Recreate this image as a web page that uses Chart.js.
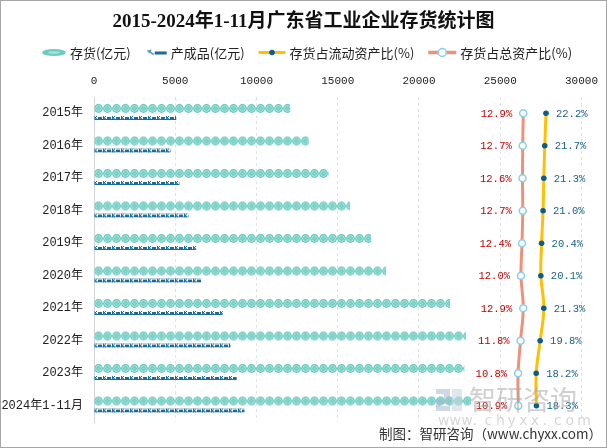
<!DOCTYPE html>
<html><head><meta charset="utf-8">
<script src="https://cdn.jsdelivr.net/npm/chart.js@4.4.1/dist/chart.umd.min.js"></script>
<style>html,body{margin:0;padding:0;background:#fff;}#wrap{width:607px;height:448px;position:relative;}canvas{display:block;}</style>
</head><body><div id="wrap"><canvas id="c" width="607" height="448"></canvas></div>
<script>
// ---- data ----
const categories = ['2015年','2016年','2017年','2018年','2019年','2020年','2021年','2022年','2023年','2024年1-11月'];
const inventory = [12070, 13210, 14440, 15760, 17050, 17970, 21910, 22890, 22790, 23200];
const finishedGoods = [5060, 4710, 5260, 5810, 6290, 6590, 7920, 8400, 8780, 9260];
const shareOfCurrentAssets = [22.2, 21.7, 21.3, 21.0, 20.4, 20.1, 21.3, 19.8, 18.2, 18.3];
const shareOfTotalAssets = [12.9, 12.7, 12.6, 12.7, 12.4, 12.0, 12.9, 11.8, 10.8, 10.9];
const xTickValues = [0, 5000, 10000, 15000, 20000, 25000, 30000];
const seriesNames = ['存货(亿元)', '产成品(亿元)', '存货占流动资产比(%)', '存货占总资产比(%)'];
const titleText = '2015-2024年1-11月广东省工业企业存货统计图';
const footerText = '制图：智研咨询（www.chyxx.com）';

// ---- styling ----
const CAT_PCT = 0.584, INV_BAR_PCT = 0.95, FG_BAR_PCT = 0.42;
const TEAL = '#64c8bc', DARKBLUE = '#1d6c96', YELLOW = '#ffc000', SALMON = '#ef907a';

function makeTile(w, h, draw) { const c = document.createElement('canvas'); c.width = w; c.height = h; draw(c.getContext('2d')); return c; }
const invTile = makeTile(9, 9, g => {
  g.fillStyle = TEAL; g.beginPath(); g.arc(4.5, 4.5, 4.4, 0, Math.PI * 2); g.fill();
  g.strokeStyle = '#b8ebe4'; g.lineWidth = 1; g.beginPath(); g.arc(4.5, 4.5, 2.8, 0, Math.PI * 2); g.stroke();
  g.fillStyle = '#8fd8cf'; g.beginPath(); g.arc(4.5, 4.5, 1.3, 0, Math.PI * 2); g.fill();
});
const fgTile = makeTile(9, 4, g => {
  g.fillStyle = DARKBLUE;
  g.fillRect(0, 0, 1, 4); g.fillRect(1, 1, 1, 1); g.fillRect(2, 0, 1, 1);
  g.fillRect(0, 3, 9, 1); g.fillRect(4, 1, 4, 2);
  g.fillStyle = '#4f97bf'; g.fillRect(1, 2, 2, 1);
});

function patternFor(tile, slot, barPct, fallback) {
  return function (ctx) {
    const chart = ctx.chart, xs = chart.scales.x, ys = chart.scales.y;
    if (ctx.type !== 'data' || !xs || !ys) return fallback;
    const c = ys.getPixelForValue(ctx.dataIndex);
    const step = Math.abs(ys.getPixelForValue(1) - ys.getPixelForValue(0));
    const x0 = xs.getPixelForValue(0);
    if (!isFinite(c) || !isFinite(step) || !isFinite(x0) || step === 0) return fallback;
    const chunk = step * CAT_PCT / 2;
    const center = c + (slot === 0 ? -chunk / 2 : chunk / 2);
    const top = center - chunk * barPct / 2;
    const pat = chart.ctx.createPattern(tile, 'repeat');
    pat.setTransform(new DOMMatrix([1, 0, 0, 1, x0, top]));
    return pat;
  };
}

// ---- plugins ----
const frame = {
  id: 'frame',
  beforeDraw(chart) {
    const g = chart.ctx; g.save(); g.fillStyle = '#fff'; g.fillRect(0, 0, chart.width, chart.height); g.restore();
  },
  afterDraw(chart) {
    const g = chart.ctx; g.save();
    // legend
    g.font = '13px "Noto Sans CJK SC", sans-serif'; g.textBaseline = 'middle';
    const iconW = [24, 22, 27, 28], gapIT = 4, gapItems = 14, ly = 52.5;
    let total = 0; const tw = seriesNames.map(s => g.measureText(s).width);
    tw.forEach((w, i) => { total += iconW[i] + gapIT + w + (i < 3 ? gapItems : 0); });
    let x = 307 - total / 2;
    seriesNames.forEach((s, i) => {
      const w = iconW[i];
      if (i === 0) {
        g.fillStyle = '#6ecbc0'; g.beginPath(); g.ellipse(x + w / 2, ly, w / 2, 3.6, 0, 0, Math.PI * 2); g.fill();
        g.fillStyle = '#a8e2da'; g.beginPath(); g.ellipse(x + w / 2, ly, 6, 1.3, 0, 0, Math.PI * 2); g.fill();
      } else if (i === 1) {
        g.fillStyle = '#5a9cc2'; g.beginPath(); g.moveTo(x + 2, ly - 2); g.lineTo(x + 7, ly - 3); g.lineTo(x + 5, ly + 1); g.closePath(); g.fill();
        g.strokeStyle = '#5a9cc2'; g.lineWidth = 1.5; g.beginPath(); g.moveTo(x + 4, ly - 1); g.lineTo(x + 9, ly + 2); g.stroke();
        g.fillStyle = DARKBLUE; g.fillRect(x + 10, ly - 1, 12, 3);
      } else if (i === 2) {
        g.strokeStyle = YELLOW; g.lineWidth = 3; g.beginPath(); g.moveTo(x, ly); g.lineTo(x + w, ly); g.stroke();
        g.fillStyle = '#0f5c86'; g.beginPath(); g.arc(x + w / 2, ly, 2.8, 0, Math.PI * 2); g.fill();
      } else {
        g.strokeStyle = SALMON; g.lineWidth = 3.5; g.beginPath(); g.moveTo(x, ly); g.lineTo(x + w, ly); g.stroke();
        g.fillStyle = '#fffaf0'; g.strokeStyle = '#86d0ef'; g.lineWidth = 1.5;
        g.beginPath(); g.arc(x + w / 2, ly, 4, 0, Math.PI * 2); g.fill(); g.stroke();
      }
      x += w + gapIT;
      g.fillStyle = '#222'; g.textAlign = 'left'; g.fillText(s, x, ly + 0.5);
      x += tw[i] + gapItems;
    });
    // watermark
    g.globalAlpha = 0.55;
    g.fillStyle = '#a9b8cf';
    g.fillRect(436, 389, 14, 5); g.fillRect(444, 394, 6, 5); g.fillRect(436, 399, 14, 5); g.fillRect(436, 404, 4, 3); g.fillRect(436, 406, 14, 5);
    g.fillStyle = '#c9d3e3'; g.fillRect(452, 389, 10, 22);
    g.fillStyle = '#a8a8a8'; g.font = '27px "Noto Sans CJK SC", sans-serif'; g.textAlign = 'left'; g.textBaseline = 'middle';
    g.fillText('智研咨询', 469, 400);
    g.font = '14px "DejaVu Sans", sans-serif'; g.fillStyle = '#b5b5b5';
    const wm = 'www.chyxx.com'; let wx = 438;
    for (const ch of wm) { g.fillText(ch, wx, 421); wx += 11.6; }
    g.globalAlpha = 1;
    // footer
    g.font = '13.5px "Noto Sans CJK SC", sans-serif'; g.fillStyle = '#333'; g.textAlign = 'right'; g.textBaseline = 'middle';
    g.fillText(footerText, 602, 433.5);
    // border
    g.strokeStyle = '#a6a6a6'; g.lineWidth = 1; g.strokeRect(0.5, 0.5, chart.width - 1, chart.height - 1);
    g.restore();
  }
};

const pctLabels = {
  id: 'pctLabels',
  afterDatasetsDraw(chart, args, opts) {
    const g = chart.ctx;
    (opts.items || []).forEach(it => {
      const meta = chart.getDatasetMeta(it.datasetIndex);
      const data = chart.data.datasets[it.datasetIndex].data;
      g.save();
      g.font = '10.5px "Liberation Mono", monospace';
      g.fillStyle = it.color; g.textBaseline = 'middle'; g.textAlign = it.side < 0 ? 'right' : 'left';
      meta.data.forEach((pt, j) => { g.fillText(data[j].toFixed(1) + '%', pt.x + it.side * it.offset, pt.y + 0.5); });
      g.restore();
    });
  }
};

new Chart(document.getElementById('c'), {
  data: {
    labels: categories,
    datasets: [
      { type: 'bar', label: seriesNames[0], data: inventory, xAxisID: 'x', yAxisID: 'y', indexAxis: 'y', order: 2,
        backgroundColor: patternFor(invTile, 0, INV_BAR_PCT, TEAL), borderWidth: 0,
        categoryPercentage: CAT_PCT, barPercentage: INV_BAR_PCT },
      { type: 'bar', label: seriesNames[1], data: finishedGoods, xAxisID: 'x', yAxisID: 'y', indexAxis: 'y', order: 2,
        backgroundColor: patternFor(fgTile, 1, FG_BAR_PCT, DARKBLUE), borderWidth: 0,
        categoryPercentage: CAT_PCT, barPercentage: FG_BAR_PCT },
      { type: 'line', label: seriesNames[2], data: shareOfCurrentAssets, xAxisID: 'x2', yAxisID: 'y', indexAxis: 'y', order: 0,
        borderColor: YELLOW, borderWidth: 3, tension: 0.4, fill: false,
        pointRadius: 2.8, pointBackgroundColor: '#0f5c86', pointBorderWidth: 0, pointHoverRadius: 3 },
      { type: 'line', label: seriesNames[3], data: shareOfTotalAssets, xAxisID: 'x2', yAxisID: 'y', indexAxis: 'y', order: 0,
        borderColor: SALMON, borderWidth: 3, tension: 0.4, fill: false,
        pointRadius: 3.5, pointBackgroundColor: '#fffaf0', pointBorderColor: '#86d0ef', pointBorderWidth: 1.5, pointHoverRadius: 4 }
    ]
  },
  options: {
    indexAxis: 'y',
    responsive: false,
    animation: false,
    devicePixelRatio: 1,
    layout: { padding: { top: 0, left: 0, right: 0, bottom: 26 } },
    plugins: {
      legend: { display: false },
      tooltip: { enabled: false },
      title: { display: true, text: titleText, color: '#111',
        font: { family: '"Liberation Serif", "Noto Sans CJK SC", serif', size: 19, weight: 'bold', lineHeight: 1.2 },
        padding: { top: 10.3, bottom: 32.7 } },
      pctLabels: { items: [
        { datasetIndex: 3, color: '#c00000', side: -1, offset: 11 },
        { datasetIndex: 2, color: '#155f86', side: 1, offset: 10 }
      ] }
    },
    scales: {
      x: { type: 'linear', position: 'top', min: 0, max: 30000,
        afterBuildTicks: s => { s.ticks = xTickValues.map(v => ({ value: v })); },
        ticks: { padding: 9, color: '#222', font: { family: '"Liberation Mono", monospace', size: 11 }, callback: v => String(v) },
        grid: { drawTicks: false, color: '#e3e3e3', lineWidth: 1 },
        border: { display: false, dash: [3, 3] } },
      x2: { type: 'linear', axis: 'x', position: 'top', display: false, min: -162.4, max: 36.7, grid: { display: false } },
      y: { type: 'category', position: 'left', offset: true,
        afterFit: s => { s.width = 94; },
        ticks: { padding: 11, color: '#222', font: { family: '"Liberation Mono", "Noto Sans CJK SC", monospace', size: 12 } },
        grid: { display: false, drawTicks: false },
        border: { display: true, color: '#d4d4d4', width: 1 } },
      yRight: { type: 'category', axis: 'y', position: 'right', offset: true,
        afterFit: s => { s.width = 24.7; },
        ticks: { display: false }, grid: { display: false, drawTicks: false }, border: { display: false } }
    }
  },
  plugins: [frame, pctLabels]
});
</script></body></html>
